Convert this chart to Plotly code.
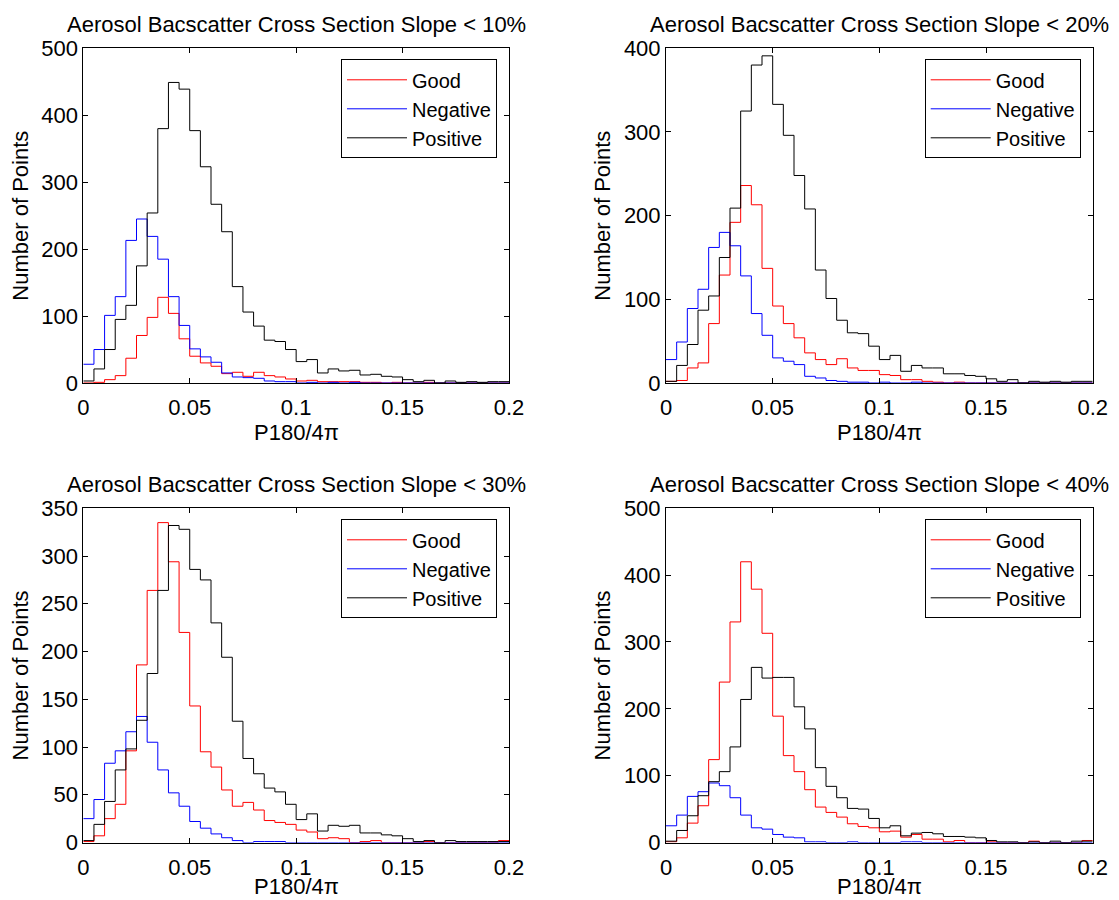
import numpy as np
import plotly.graph_objects as go

# ---------------- data ----------------
bin_width = 0.005
n_bins = 40
bin_edges = [round(i * bin_width, 4) for i in range(n_bins + 1)]

series_names = ["Good", "Negative", "Positive"]
series_colors = ["#ff0000", "#0000ff", "#000000"]

panel_titles = [
    "Aerosol Bacscatter Cross Section Slope < 10%",
    "Aerosol Bacscatter Cross Section Slope < 20%",
    "Aerosol Bacscatter Cross Section Slope < 30%",
    "Aerosol Bacscatter Cross Section Slope < 40%",
]
x_title = "P180/4π"
y_title = "Number of Points"

good_10 = [0, 1, 5, 11, 37, 71, 98, 128, 104, 66, 40, 30, 25, 14, 16, 10, 16, 11, 9, 6,
           3, 4, 2, 2, 2, 2, 1, 1, 0, 1, 0, 0, 1, 0, 0, 0, 0, 0, 0, 0]
neg_10 = [28, 50, 101, 129, 213, 245, 219, 185, 129, 86, 51, 39, 31, 15, 9, 8, 7, 3, 2, 2,
          0, 1, 0, 1, 0, 1, 0, 0, 0, 0, 0, 0, 0, 0, 0, 0, 0, 0, 0, 0]
pos_10 = [3, 21, 50, 95, 116, 175, 254, 380, 449, 439, 377, 323, 267, 226, 144, 106, 85, 64, 62, 50,
          32, 35, 15, 21, 18, 19, 12, 13, 10, 9, 5, 2, 4, 0, 3, 1, 2, 1, 2, 2]

good_20 = [2, 3, 18, 24, 71, 129, 192, 236, 213, 137, 92, 71, 54, 36, 28, 22, 29, 18, 15, 15,
           10, 9, 4, 4, 2, 1, 0, 1, 0, 0, 0, 0, 0, 0, 0, 0, 0, 0, 0, 0]
neg_20 = [28, 49, 89, 112, 162, 180, 164, 128, 83, 57, 30, 26, 22, 8, 6, 3, 2, 1, 1, 0,
          1, 0, 0, 1, 0, 0, 0, 0, 0, 0, 0, 0, 0, 0, 0, 0, 0, 0, 0, 0]
pos_20 = [2, 21, 46, 87, 104, 150, 209, 325, 380, 391, 333, 296, 248, 208, 135, 101, 75, 60, 59, 44,
          28, 33, 14, 21, 18, 18, 11, 11, 9, 8, 5, 2, 4, 0, 2, 1, 2, 1, 2, 2]

good_30 = [1, 7, 25, 40, 96, 186, 264, 335, 294, 220, 143, 95, 79, 55, 38, 42, 34, 23, 21, 19,
           13, 11, 4, 5, 4, 0, 1, 2, 0, 0, 0, 0, 1, 0, 0, 0, 0, 0, 0, 2]
neg_30 = [25, 45, 83, 96, 116, 132, 105, 76, 52, 38, 22, 15, 9, 5, 2, 0, 1, 1, 1, 0,
          0, 0, 0, 0, 0, 0, 0, 0, 0, 0, 0, 0, 0, 0, 0, 0, 0, 0, 0, 0]
pos_30 = [2, 19, 43, 76, 98, 128, 177, 264, 332, 328, 286, 275, 230, 194, 127, 88, 72, 57, 53, 40,
          24, 30, 12, 18, 17, 18, 10, 10, 8, 7, 4, 1, 2, 0, 2, 1, 1, 1, 1, 1]

good_40 = [1, 7, 29, 55, 124, 240, 330, 420, 379, 313, 189, 130, 106, 79, 53, 45, 38, 28, 24, 22,
           16, 17, 8, 12, 5, 5, 1, 3, 0, 0, 1, 0, 0, 0, 2, 0, 0, 0, 0, 3]
neg_40 = [25, 41, 69, 76, 89, 85, 67, 41, 22, 20, 12, 8, 7, 1, 1, 0, 0, 1, 0, 0,
          0, 0, 1, 1, 0, 0, 0, 0, 0, 0, 0, 0, 0, 0, 0, 0, 0, 0, 0, 0]
pos_40 = [2, 18, 40, 70, 91, 106, 143, 214, 262, 246, 247, 247, 203, 170, 112, 84, 67, 51, 50, 36,
          22, 25, 10, 14, 15, 13, 9, 9, 8, 7, 3, 1, 1, 0, 1, 0, 2, 0, 2, 2]

panel_series = [
    [good_10, neg_10, pos_10],
    [good_20, neg_20, pos_20],
    [good_30, neg_30, pos_30],
    [good_40, neg_40, pos_40],
]
y_max = [500, 400, 350, 500]
y_dtick = [100, 100, 50, 100]
x_tickvals = [0, 0.05, 0.1, 0.15, 0.2]
x_ticktext = ["0", "0.05", "0.1", "0.15", "0.2"]

# ---------------- layout geometry ----------------
OFF = 8  # page body margin in the browser
W, H = 1119 - OFF, 900 - OFF
FONT = "Liberation Sans, Arial, Helvetica, sans-serif"
FS = 22
LFS = 20

# pixel boxes in the final page (left, right, top, bottom)
boxes = [
    (83.3, 509.0, 48.3, 383.0),
    (666.0, 1092.7, 48.3, 383.0),
    (83.3, 509.0, 508.3, 842.5),
    (666.0, 1092.7, 508.3, 842.5),
]
x_title_gap = [49.5, 49.5, 44.0, 44.0]

fig = go.Figure()
layout = dict(
    width=W, height=H,
    margin=dict(l=0, r=0, t=0, b=0),
    paper_bgcolor="white", plot_bgcolor="white",
    font=dict(family=FONT, size=FS, color="black"),
    annotations=[],
)

for i, (series, box) in enumerate(zip(panel_series, boxes)):
    l, r, t, b = [v - OFF for v in box]
    k = "" if i == 0 else str(i + 1)
    leg = "legend" if i == 0 else f"legend{i + 1}"
    for name, color, counts in zip(series_names, series_colors, series):
        fig.add_trace(go.Scatter(
            x=bin_edges,
            y=list(counts) + [counts[-1]],
            mode="lines",
            line=dict(color=color, width=1, shape="hv"),
            name=name,
            xaxis="x" + k, yaxis="y" + k,
            legend=leg,
            showlegend=True,
        ))
    xd = [l / W, r / W]
    yd = [1 - b / H, 1 - t / H]
    layout["xaxis" + k] = dict(
        domain=xd, anchor="y" + k, range=[0, 0.2],
        tickvals=x_tickvals, ticktext=x_ticktext,
        showline=True, linecolor="black", linewidth=1, mirror="ticks",
        ticks="inside", ticklen=5, tickcolor="black", tickwidth=1,
        showgrid=False, zeroline=False,
        ticklabelstandoff=5,
        tickfont=dict(family=FONT, size=FS, color="black"),
        automargin=False,
    )
    layout["yaxis" + k] = dict(
        domain=yd, anchor="x" + k, range=[0, y_max[i]],
        tick0=0, dtick=y_dtick[i],
        showline=True, linecolor="black", linewidth=1, mirror="ticks",
        ticks="inside", ticklen=5, tickcolor="black", tickwidth=1,
        showgrid=False, zeroline=False,
        tickfont=dict(family=FONT, size=FS, color="black"),
        title=dict(text=y_title, font=dict(family=FONT, size=FS, color="black"), standoff=7),
        automargin=False,
    )
    layout[leg] = dict(
        x=(r - 12) / W, y=1 - (t + 11) / H, xanchor="right", yanchor="top",
        xref="paper", yref="paper",
        bgcolor="white", bordercolor="black", borderwidth=1,
        font=dict(family=FONT, size=LFS, color="black"),
        itemwidth=60, tracegroupgap=0,
    )
    # panel title
    layout["annotations"].append(dict(
        text=panel_titles[i], xref="paper", yref="paper",
        x=(l + r) / 2 / W, y=1 - (t - 24) / H,
        xanchor="center", yanchor="middle", showarrow=False,
        font=dict(family=FONT, size=FS, color="black"),
    ))
    # x-axis title
    layout["annotations"].append(dict(
        text=x_title, xref="paper", yref="paper",
        x=(l + r) / 2 / W, y=1 - (b + x_title_gap[i]) / H,
        xanchor="center", yanchor="middle", showarrow=False,
        font=dict(family=FONT, size=FS, color="black"),
    ))

fig.update_layout(**layout)
fig.write_html("out.html")
